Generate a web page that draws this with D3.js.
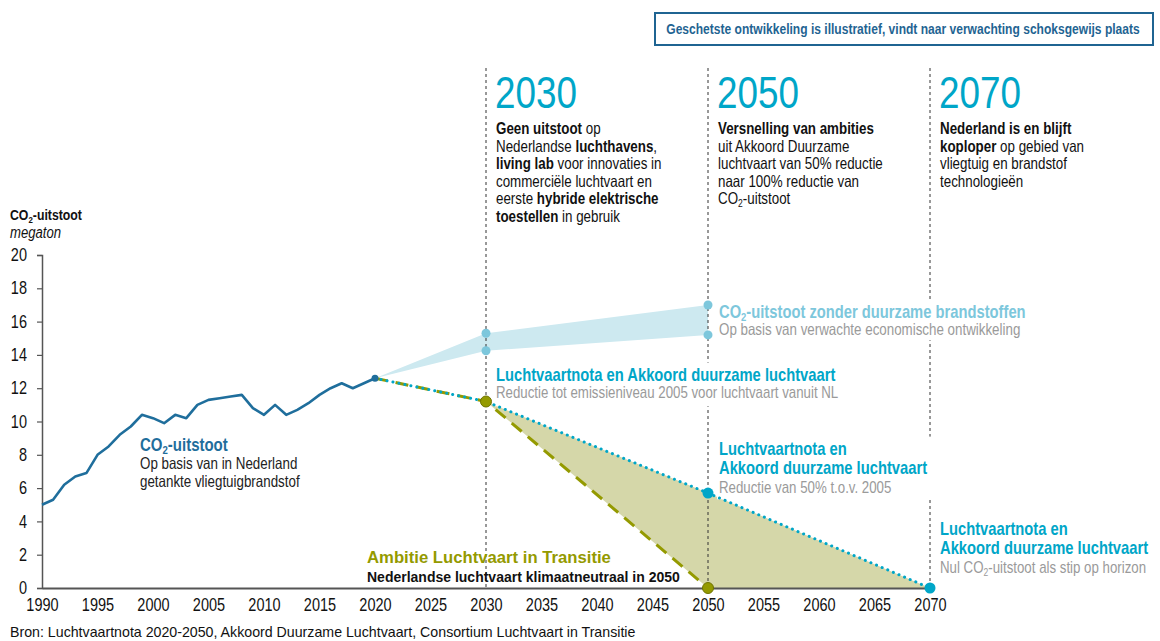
<!DOCTYPE html>
<html><head><meta charset="utf-8">
<script src="https://cdn.jsdelivr.net/npm/d3@7"></script>
<style>
html,body{margin:0;padding:0;background:#fff;}
svg{display:block;font-family:"Liberation Sans","Arial",sans-serif;}
</style></head>
<body><svg id="c" width="1160" height="641"></svg>
<script>
// ---- data ----
const histYears = [1990,1991,1992,1993,1994,1995,1996,1997,1998,1999,2000,2001,2002,2003,2004,2005,2006,2007,2008,2009,2010,2011,2012,2013,2014,2015,2016,2017,2018,2019,2020];
const histValues = [5.0,5.3,6.2,6.7,6.9,8.0,8.5,9.2,9.7,10.4,10.2,9.9,10.4,10.2,11.0,11.3,11.4,11.5,11.6,10.8,10.4,11.0,10.4,10.7,11.1,11.6,12.0,12.3,12.0,12.3,12.6];
const bandYears = [2020,2030,2050];
const bandUpper = [12.6,15.3,17.0];
const bandLower = [12.6,14.25,15.2];
const notaYears = [2020,2030,2050,2070];
const notaValues = [12.6,11.2,5.7,0];
const ambitieYears = [2020,2030,2050];
const ambitieValues = [12.6,11.2,0];
const milestoneYears = [2030,2050,2070];
const xTicks = [1990,1995,2000,2005,2010,2015,2020,2025,2030,2035,2040,2045,2050,2055,2060,2065,2070];
const yTicks = [0,2,4,6,8,10,12,14,16,18,20];

const C = {hist:"#1f6e9c", band:"#cde9f0", bandDot:"#7dc7dc", nota:"#00a6c8", olive:"#949a00", oliveFill:"#d5d7a9", gray:"#9a9a9a", axis:"#555"};
const NARROW = 0.82;

const svg = d3.select("#c");
const x = d3.scaleLinear().domain([1990,2070]).range([42,930]);
const y = d3.scaleLinear().domain([0,20]).range([588,255]);

// layers
const gArea = svg.append("g");
const gAxes = svg.append("g");
const gGuides = svg.append("g");
const gLabels = svg.append("g");
const gLines = svg.append("g");
const gDots = svg.append("g");
const gText = svg.append("g");

// rich text helper (condensed via horizontal scale)
function rich(parent, xPos, yPos, lines, opts){
  const sx = opts.sx==null ? NARROW : opts.sx;
  const g = parent.append("g").attr("transform",`translate(${xPos},${yPos}) scale(${sx},1)`);
  const t = g.append("text").attr("x",0).attr("y",0)
    .attr("font-size",opts.size).attr("fill",opts.fill||"#111");
  if(opts.anchor) t.attr("text-anchor",opts.anchor);
  if(opts.italic) t.attr("font-style","italic");
  lines.forEach((segs,i)=>{
    let first = true;
    segs.forEach(s=>{
      const ts = t.append("tspan");
      if(first){ ts.attr("x",0).attr("dy", i===0?0:opts.lh); first=false; }
      ts.text(s.t);
      if(s.b) ts.attr("font-weight","bold");
      if(s.c) ts.attr("fill",s.c);
      if(s.size) ts.attr("font-size",s.size);
      if(s.sub){ ts.attr("font-size",(s.size||opts.size)*0.64).attr("dy", (s.size||opts.size)*0.17); }
      if(s.after){ ts.attr("dy", -(s.size||opts.size)*0.17); }
    });
  });
  return {g,t};
}

// ---- band (no sustainable fuels) ----
const bandData = bandYears.map((yr,i)=>({yr, u:bandUpper[i], l:bandLower[i]}));
gArea.append("path").datum(bandData)
  .attr("d", d3.area().x(d=>x(d.yr)).y0(d=>y(d.l)).y1(d=>y(d.u)))
  .attr("fill",C.band);

// ---- olive fill area ----
const fillTop = [{yr:2030,v:11.2},{yr:2050,v:5.7},{yr:2070,v:0}];
const fillBot = [{yr:2030,v:11.2},{yr:2050,v:0},{yr:2070,v:0}];
gArea.append("path")
  .attr("d", d3.line().x(d=>x(d.yr)).y(d=>y(d.v))(fillTop.concat(fillBot.slice().reverse())) + "Z")
  .attr("fill",C.oliveFill);

// ---- axes ----
const yAx = gAxes.append("g").attr("transform",`translate(${x(1990)},0)`)
  .call(d3.axisLeft(y).tickValues(yTicks).tickSize(5).tickPadding(10));
yAx.attr("font-family",null);
yAx.select(".domain").attr("stroke",C.axis).attr("stroke-width",1.5);
yAx.selectAll(".tick line").attr("stroke",C.axis).attr("stroke-width",1.2);
yAx.selectAll(".tick text").attr("font-size",17.7).attr("fill","#111")
  .attr("x",-15/NARROW).attr("transform",`scale(${NARROW},1)`);

const xAx = gAxes.append("g").attr("transform",`translate(0,${y(0)})`)
  .call(d3.axisBottom(x).tickValues(xTicks).tickFormat(d3.format("d")).tickSize(0).tickPadding(10));
xAx.attr("font-family",null);
xAx.select(".domain").attr("stroke",C.axis).attr("stroke-width",2);
xAx.selectAll(".tick text").attr("font-size",17.7).attr("fill","#111").attr("transform",`scale(${NARROW},1)`);

// ---- milestone dashed lines ----
gGuides.selectAll("line.ms").data(milestoneYears).join("line").attr("class","ms")
  .attr("x1",d=>x(d)).attr("x2",d=>x(d)).attr("y1",68).attr("y2",y(0))
  .attr("stroke","#333").attr("stroke-width",1).attr("stroke-dasharray","3,3");

// ---- lines ----
const nota = notaYears.map((yr,i)=>({yr,v:notaValues[i]}));
const amb = ambitieYears.map((yr,i)=>({yr,v:ambitieValues[i]}));
const hist = histYears.map((yr,i)=>({yr,v:histValues[i]}));
const ln = d3.line().x(d=>x(d.yr)).y(d=>y(d.v));

gLines.append("path").datum(amb).attr("d",ln).attr("fill","none")
  .attr("stroke",C.olive).attr("stroke-width",3).attr("stroke-dasharray","13,8");
gLines.append("path").datum(nota).attr("d",ln).attr("fill","none")
  .attr("stroke",C.nota).attr("stroke-width",3).attr("stroke-dasharray","0.1,6").attr("stroke-linecap","round");
gLines.append("path").datum(hist).attr("d",ln).attr("fill","none")
  .attr("stroke",C.hist).attr("stroke-width",2.6).attr("stroke-linejoin","round");

// ---- dots ----
gDots.selectAll("circle.bd").data(bandData.slice(1).flatMap(d=>[{yr:d.yr,v:d.u},{yr:d.yr,v:d.l}]))
  .join("circle").attr("cx",d=>x(d.yr)).attr("cy",d=>y(d.v)).attr("r",4.5).attr("fill",C.bandDot);
gDots.append("circle").attr("cx",x(2020)).attr("cy",y(12.6)).attr("r",3.5).attr("fill",C.hist);
gDots.selectAll("circle.nd").data(nota.slice(2)).join("circle")
  .attr("cx",d=>x(d.yr)).attr("cy",d=>y(d.v)).attr("r",5.5).attr("fill",C.nota);
gDots.selectAll("circle.od").data(amb.slice(1)).join("circle")
  .attr("cx",d=>x(d.yr)).attr("cy",d=>y(d.v)).attr("r",5.5).attr("fill",C.olive).attr("stroke","#6f7400").attr("stroke-width",1);

// ---- labels with white background (below lines/dots, above guides) ----
function boxed(xPos,yPos,lines,opts,pad){
  const r = rich(gLabels,xPos,yPos,lines,opts);
  const bb = r.t.node().getBBox();
  const sx = NARROW;
  r.g.insert("rect","text").attr("x",bb.x-pad[3]/sx).attr("y",bb.y-pad[0])
    .attr("width",bb.width+(pad[1]+pad[3])/sx).attr("height",bb.height+pad[0]+pad[2]).attr("fill","#fff");
  return r;
}

// band label
boxed(719,317.5,[
  [{t:"CO",b:true,c:C.bandDot},{t:"2",b:true,sub:true,c:C.bandDot},{t:"-uitstoot zonder duurzame brandstoffen",b:true,c:C.bandDot,after:true}],
  [{t:"Op basis van verwachte economische ontwikkeling",c:C.gray,size:16.3}]
],{size:18,lh:17.5},[2,2,2,2]);

// nota 2030
boxed(496,381,[
  [{t:"Luchtvaartnota en Akkoord duurzame luchtvaart",b:true,c:C.nota}],
  [{t:"Reductie tot emissieniveau 2005 voor luchtvaart vanuit NL",c:C.gray,size:16.2}]
],{size:18,lh:17},[2,2,5,2]);

// nota 2050
boxed(719,455,[
  [{t:"Luchtvaartnota en",b:true,c:C.nota}],
  [{t:"Akkoord duurzame luchtvaart",b:true,c:C.nota}],
  [{t:"Reductie van 50% t.o.v. 2005",c:C.gray,size:16.2}]
],{size:18,lh:19},[2,10,3,2]);

// nota 2070
rich(gText,940,535,[
  [{t:"Luchtvaartnota en",b:true,c:C.nota}],
  [{t:"Akkoord duurzame luchtvaart",b:true,c:C.nota}],
  [{t:"Nul CO",c:C.gray,size:16.2},{t:"2",sub:true,c:C.gray,size:16.2},{t:"-uitstoot als stip op horizon",c:C.gray,after:true,size:16.2}]
],{size:18,lh:19});

// ambitie (regular width)
rich(gText,367,563,[
  [{t:"Ambitie Luchtvaart in Transitie",b:true,c:C.olive}],
  [{t:"Nederlandse luchtvaart klimaatneutraal in 2050",b:true,c:"#111",size:14}]
],{size:16.7,lh:18.5,sx:1});

// historical label
rich(gText,140,451,[
  [{t:"CO",b:true,c:C.hist},{t:"2",b:true,sub:true,c:C.hist},{t:"-uitstoot",b:true,c:C.hist,after:true}],
  [{t:"Op basis van in Nederland",c:"#222",size:16.3}],
  [{t:"getankte vliegtuigbrandstof",c:"#222",size:16.3}]
],{size:18.3,lh:18});

// y label
rich(gText,10,220,[
  [{t:"CO",b:true},{t:"2",b:true,sub:true},{t:"-uitstoot",b:true,after:true}]
],{size:15,lh:17});
rich(gText,10,238,[[{t:"megaton"}]],{size:16,lh:17,italic:true});

// milestone headers
const heads = [
 {yr:2030, lines:[
   [{t:"Geen uitstoot",b:true},{t:" op"}],
   [{t:"Nederlandse "},{t:"luchthavens",b:true},{t:","}],
   [{t:"living lab",b:true},{t:" voor innovaties in"}],
   [{t:"commerciële luchtvaart en"}],
   [{t:"eerste "},{t:"hybride elektrische",b:true}],
   [{t:"toestellen",b:true},{t:" in gebruik"}]]},
 {yr:2050, lines:[
   [{t:"Versnelling van ambities",b:true}],
   [{t:"uit Akkoord Duurzame"}],
   [{t:"luchtvaart van 50% reductie"}],
   [{t:"naar 100% reductie van"}],
   [{t:"CO"},{t:"2",sub:true},{t:"-uitstoot",after:true}]]},
 {yr:2070, lines:[
   [{t:"Nederland is en blijft",b:true}],
   [{t:"koploper",b:true},{t:" op gebied van"}],
   [{t:"vliegtuig en brandstof"}],
   [{t:"technologieën"}]]}
];
heads.forEach(h=>{
  rich(gText,x(h.yr)+9,108,[[{t:String(h.yr)}]],{size:45,lh:0,fill:C.nota});
  rich(gText,x(h.yr)+10,134,h.lines,{size:16.3,lh:17.6,fill:"#111"});
});

// top box
gText.append("rect").attr("x",655).attr("y",13).attr("width",498).attr("height",32)
  .attr("fill","#fff").attr("stroke","#1f6492").attr("stroke-width",2);
rich(gText,903,34,[[{t:"Geschetste ontwikkeling is illustratief, vindt naar verwachting schoksgewijs plaats",b:true}]],
  {size:14.7,lh:0,fill:"#1f6492",anchor:"middle"});

// source (regular width)
rich(gText,10,637,[[{t:"Bron: Luchtvaartnota 2020-2050, Akkoord Duurzame Luchtvaart, Consortium Luchtvaart in Transitie"}]],
  {size:14.2,lh:0,sx:1});
</script></body></html>
